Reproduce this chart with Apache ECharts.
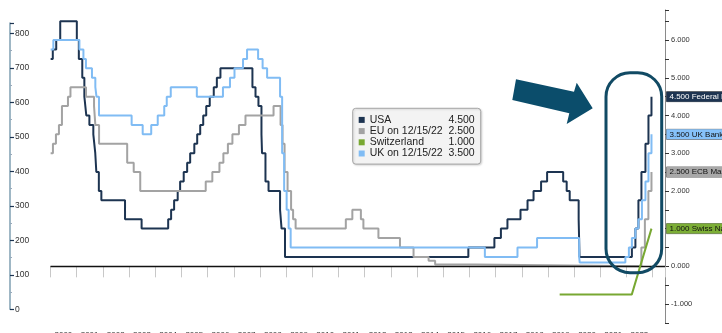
<!DOCTYPE html>
<html>
<head>
<meta charset="utf-8">
<script src="https://cdn.jsdelivr.net/npm/echarts@6/dist/echarts.min.js"></script>
<style>html,body{margin:0;padding:0;background:#fff;}#c{width:722px;height:333px;}</style>
</head>
<body>
<div id="c"></div>
<script>
// ---- data (change date, new policy rate %) ----
const usa = [["2000-01-03",5.5],["2000-02-02",5.75],["2000-03-21",6.0],["2000-05-16",6.5],
["2001-01-03",6.0],["2001-01-31",5.5],["2001-03-20",5.0],["2001-04-18",4.5],["2001-05-15",4.0],["2001-06-27",3.75],["2001-08-21",3.5],["2001-09-17",3.0],["2001-10-02",2.5],["2001-11-06",2.0],["2001-12-11",1.75],
["2002-11-06",1.25],["2003-06-25",1.0],
["2004-06-30",1.25],["2004-08-10",1.5],["2004-09-21",1.75],["2004-11-10",2.0],["2004-12-14",2.25],
["2005-02-02",2.5],["2005-03-22",2.75],["2005-05-03",3.0],["2005-06-30",3.25],["2005-08-09",3.5],["2005-09-20",3.75],["2005-11-01",4.0],["2005-12-13",4.25],
["2006-01-31",4.5],["2006-03-28",4.75],["2006-05-10",5.0],["2006-06-29",5.25],
["2007-09-18",4.75],["2007-10-31",4.5],["2007-12-11",4.25],
["2008-01-22",3.5],["2008-01-30",3.0],["2008-03-18",2.25],["2008-04-30",2.0],["2008-10-08",1.5],["2008-10-29",1.0],["2008-12-16",0.25],
["2015-12-17",0.5],["2016-12-15",0.75],["2017-03-16",1.0],["2017-06-15",1.25],["2017-12-14",1.5],["2018-03-22",1.75],["2018-06-14",2.0],["2018-09-27",2.25],["2018-12-20",2.5],
["2019-08-01",2.25],["2019-09-19",2.0],["2019-10-31",1.75],["2020-03-04",1.25],["2020-03-16",0.25],
["2022-03-17",0.5],["2022-05-05",1.0],["2022-06-16",1.75],["2022-07-28",2.5],["2022-09-22",3.25],["2022-11-03",4.0],["2022-12-15",4.5]];

const eu = [["2000-01-03",3.0],["2000-02-04",3.25],["2000-03-17",3.5],["2000-04-28",3.75],["2000-06-09",4.25],["2000-09-01",4.5],["2000-10-06",4.75],
["2001-05-11",4.5],["2001-08-31",4.25],["2001-09-18",3.75],["2001-11-09",3.25],["2002-12-06",2.75],["2003-03-07",2.5],["2003-06-06",2.0],
["2005-12-06",2.25],["2006-03-08",2.5],["2006-06-15",2.75],["2006-08-09",3.0],["2006-10-11",3.25],["2006-12-13",3.5],["2007-03-14",3.75],["2007-06-13",4.0],
["2008-07-09",4.25],["2008-10-15",3.75],["2008-11-12",3.25],["2008-12-10",2.5],["2009-01-21",2.0],["2009-03-11",1.5],["2009-04-08",1.25],["2009-05-13",1.0],
["2011-04-13",1.25],["2011-07-13",1.5],["2011-11-09",1.25],["2011-12-14",1.0],["2012-07-11",0.75],["2013-05-08",0.5],["2013-11-13",0.25],["2014-06-11",0.15],["2014-09-10",0.05],["2016-03-16",0.0],
["2022-07-27",0.5],["2022-09-14",1.25],["2022-11-02",2.0],["2022-12-15",2.5]];

const swiss = [["2019-06-13",-0.75],["2022-03-15",-0.75],["2022-12-15",1.0]];

const uk = [["2000-01-03",5.75],["2000-02-10",6.0],["2001-02-08",5.75],["2001-04-05",5.5],["2001-05-10",5.25],["2001-08-02",5.0],["2001-09-18",4.75],["2001-10-04",4.5],["2001-11-08",4.0],
["2003-02-06",3.75],["2003-07-10",3.5],["2003-11-06",3.75],["2004-02-05",4.0],["2004-05-06",4.25],["2004-06-10",4.5],["2004-08-05",4.75],["2005-08-04",4.5],
["2006-08-03",4.75],["2006-11-09",5.0],["2007-01-11",5.25],["2007-05-10",5.5],["2007-07-05",5.75],["2007-12-06",5.5],["2008-02-07",5.25],["2008-04-10",5.0],
["2008-10-08",4.5],["2008-11-06",3.0],["2008-12-04",2.0],["2009-01-08",1.5],["2009-02-05",1.0],["2009-03-05",0.5],
["2016-08-04",0.25],["2017-11-02",0.5],["2018-08-02",0.75],["2020-03-11",0.25],["2020-03-19",0.1],
["2021-12-16",0.25],["2022-02-03",0.5],["2022-03-17",0.75],["2022-05-05",1.0],["2022-06-16",1.25],["2022-08-04",1.75],["2022-09-22",2.25],["2022-11-03",3.0],["2022-12-15",3.5]];

const seriesNames = ["USA","EU on 12/15/22","Switzerland","UK on 12/15/22"];
const legendValues = ["4.500","2.500","1.000","3.500"];
const tagTexts = ["4.500 Federal Funds Target Rate - Upper Bound","2.500 ECB Main Refinancing Operations Rate","1.000 Swiss National Bank Policy Rate","3.500 UK Bank of England Official Bank Rate"];
const leftTicks = [0,100,200,300,400,500,600,700,800];

function toYear(s){const p=s.split('-').map(Number);const a=Date.UTC(p[0],0,1),b=Date.UTC(p[0]+1,0,1);return p[0]+(Date.UTC(p[0],p[1]-1,p[2])-a)/(b-a);}
function conv(arr){return arr.map(d=>[toYear(d[0]),d[1]]);}

const colors = ["#1d3451","#a3a3a3","#78a832","#80bcf4"];
const tagBg = ["#1d3451","#a8a8a8","#7cae36","#86c2fa"];
const tagFg = ["#ffffff","#111111","#111111","#111111"];
const datas = [usa,eu,swiss,uk];
const FONT = "Liberation Sans";

const series = datas.map((d,i)=>({
  name: seriesNames[i], type:'line', xAxisIndex:0, yAxisIndex:0,
  data: conv(d), step: i===2 ? false : 'end', showSymbol:false, symbol:'none',
  lineStyle:{color:colors[i], width:2}, itemStyle:{color:colors[i]},
  z: 3+i,
  endLabel:{show:true, formatter:tagTexts[i], distance:15, fontSize:8, fontFamily:FONT,
    color:tagFg[i], backgroundColor:tagBg[i], padding:[1,3,1,3], borderColor:'#666', borderWidth:0.5},
  markLine: i===0 ? {silent:true, symbol:'none', label:{show:false},
    lineStyle:{color:'#111', width:1.3, type:'solid'}, data:[{yAxis:0}]} : undefined
}));
series.push({name:'left', type:'line', xAxisIndex:1, yAxisIndex:1, data:[], showSymbol:false});

const chart = echarts.init(document.getElementById('c'), null, {renderer:'canvas'});
chart.setOption({
  animation:false,
  backgroundColor:'#fff',
  textStyle:{fontFamily:FONT},
  grid:[{left:50.5, right:57, top:9.9, bottom:10.1, containLabel:false, outerBoundsMode:'none'},
        {left:10, width:1, top:22.95, bottom:23.7, containLabel:false, outerBoundsMode:'none'}],
  xAxis:[{type:'value', gridIndex:0, min:2000, max:2023.47, interval:1,
    axisLine:{show:true, lineStyle:{color:'#b8b8b8', width:1}},
    axisTick:{show:true, length:11, lineStyle:{color:'#c8c8c8'}},
    axisLabel:{show:true, margin:8, fontSize:8, color:'#333', align:'left', padding:[0,0,0,4],
      formatter:v=> (Math.abs(v-Math.round(v))<1e-6 && v<=2022) ? String(Math.round(v)) : ''},
    splitLine:{show:false}},
    {type:'value', gridIndex:1, show:false, min:0, max:1}],
  yAxis:[{type:'value', gridIndex:0, position:'right', min:-1.5, max:6.8, interval:0.5,
    axisLine:{show:true, lineStyle:{color:'#8a8a8a', width:1}},
    axisTick:{show:true, length:4, lineStyle:{color:'#333'}},
    axisLabel:{show:true, margin:6, fontSize:7.5, color:'#333',
      formatter:v=> Math.abs(v-Math.round(v))<1e-6 ? Math.round(v).toFixed(3) : ''},
    splitLine:{show:false}},
    {type:'value', gridIndex:1, position:'left', min:0, max:830, interval:100,
    axisLine:{show:true, lineStyle:{color:'#7f9fb2', width:1.5}},
    axisTick:{show:true, inside:true, length:4, lineStyle:{color:'#1d3451', width:1.2}},
    minorTick:{show:true, splitNumber:2, length:2, lineStyle:{color:'#9ab'}},
    axisLabel:{show:true, inside:true, margin:5, fontSize:8.5, color:'#333',
      formatter:v=> leftTicks.indexOf(v)>=0 ? String(v) : ''},
    splitLine:{show:false}}],
  legend:{
    data: seriesNames, orient:'vertical', left:352.7, top:108.3,
    itemWidth:6, itemHeight:6, itemGap:0, icon:'rect',
    padding:[6,6,5,6], backgroundColor:'#f3f3f3', borderColor:'#a5a5a5', borderWidth:1, borderRadius:3,
    shadowColor:'rgba(0,0,0,0.15)', shadowBlur:2, shadowOffsetX:1, shadowOffsetY:1,
    selectedMode:false,
    textStyle:{fontSize:10.5, color:'#222', lineHeight:11.2, fontFamily:FONT,
      rich:{n:{width:79, fontSize:10.5, lineHeight:11.2, color:'#222', fontFamily:FONT},
            v:{width:26, align:'right', fontSize:10.5, lineHeight:11.2, color:'#222', fontFamily:FONT}}},
    formatter: name => '{n|'+name+'}{v|'+legendValues[seriesNames.indexOf(name)]+'}'
  },
  graphic:[
    {type:'polygon', z:100, shape:{points:[[516,79.3],[574,91.7],[576.7,82.7],[592.7,108.3],[566.7,124],[569.3,113.3],[512.3,100]]},
     style:{fill:'#0b4d6b'}},
    {type:'rect', z:100, shape:{x:606, y:72.7, width:55.7, height:200, r:24},
     style:{fill:'none', stroke:'#114a64', lineWidth:3}}
  ],
  series: series
});
</script>
</body>
</html>
